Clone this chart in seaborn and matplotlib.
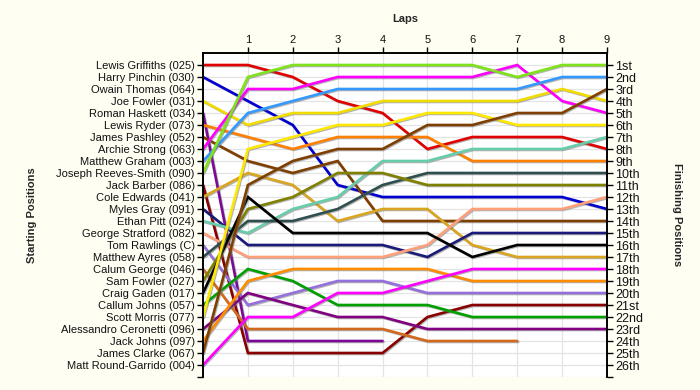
import numpy as np
import pandas as pd
import matplotlib
matplotlib.use("Agg")
import matplotlib.pyplot as plt
import matplotlib.patheffects as pe
import seaborn as sns

nan = np.nan

laps = [0, 1, 2, 3, 4, 5, 6, 7, 8, 9]

riders = [
    "Lewis Griffiths (025)", "Harry Pinchin (030)", "Owain Thomas (064)",
    "Joe Fowler (031)", "Roman Haskett (034)", "Lewis Ryder (073)",
    "James Pashley (052)", "Archie Strong (063)", "Matthew Graham (003)",
    "Joseph Reeves-Smith (090)", "Jack Barber (086)", "Cole Edwards (041)",
    "Myles Gray (091)", "Ethan Pitt (024)", "George Stratford (082)",
    "Tom Rawlings (C)", "Matthew Ayres (058)", "Calum George (046)",
    "Sam Fowler (027)", "Craig Gaden (017)", "Callum Johns (057)",
    "Scott Morris (077)", "Alessandro Ceronetti (096)", "Jack Johns (097)",
    "James Clarke (067)", "Matt Round-Garrido (004)",
]

lewis_griffiths = [1, 1, 2, 4, 5, 8, 7, 7, 7, 8]
harry_pinchin = [2, 4, 6, 11, 12, 12, 12, 12, 12, 13]
owain_thomas = [3, nan, nan, nan, nan, nan, nan, nan, nan, nan]
joe_fowler = [4, 6, 5, 5, 4, 4, 4, 4, 3, 4]
roman_haskett = [5, 24, 24, 24, 24, nan, nan, nan, nan, nan]
lewis_ryder = [6, 7, 8, 7, 7, 7, 9, 9, 9, 9]
james_pashley = [7, 9, 10, 9, 14, 14, 14, 14, 14, 14]
archie_strong = [8, 3, 3, 2, 2, 2, 2, 1, 4, 5]
matthew_graham = [9, 5, 4, 3, 3, 3, 3, 3, 2, 2]
joseph_reeves_smith = [10, 2, 1, 1, 1, 1, 1, 2, 1, 1]
jack_barber = [11, 25, 25, 25, 25, 22, 21, 21, 21, 21]
cole_edwards = [12, 10, 11, 14, 13, 13, 16, 17, 17, 17]
myles_gray = [13, 16, 16, 16, 16, 17, 15, 15, 15, 15]
ethan_pitt = [14, 15, 13, 12, 9, 9, 8, 8, 8, 7]
george_stratford = [15, 17, 17, 17, 17, 16, 13, 13, 13, 12]
tom_rawlings = [16, 21, 20, 19, 19, 20, 20, 20, 20, 20]
matthew_ayres = [17, 14, 14, 13, 11, 10, 10, 10, 10, 10]
calum_george = [18, 23, 23, 23, 23, 24, 24, 24, nan, nan]
sam_fowler = [19, 13, 12, 10, 10, 11, 11, 11, 11, 11]
craig_gaden = [20, 12, 15, 15, 15, 15, 17, 16, 16, 16]
callum_johns = [21, 18, 19, 21, 21, 21, 22, 22, 22, 22]
scott_morris = [22, 8, 7, 6, 6, 5, 5, 6, 6, 6]
alessandro_ceronetti = [23, 20, 21, 22, 22, 23, 23, 23, 23, 23]
jack_johns = [24, 19, 18, 18, 18, 18, 19, 19, 19, 19]
james_clarke = [25, 11, 9, 8, 8, 6, 6, 5, 5, 3]
matt_round_garrido = [26, 22, 22, 20, 20, 19, 18, 18, 18, 18]

positions = [
    lewis_griffiths, harry_pinchin, owain_thomas, joe_fowler, roman_haskett,
    lewis_ryder, james_pashley, archie_strong, matthew_graham,
    joseph_reeves_smith, jack_barber, cole_edwards, myles_gray, ethan_pitt,
    george_stratford, tom_rawlings, matthew_ayres, calum_george, sam_fowler,
    craig_gaden, callum_johns, scott_morris, alessandro_ceronetti, jack_johns,
    james_clarke, matt_round_garrido,
]

colors = [
    "#E00000", "#0000D0", "#808080", "#F2DC00", "#7A0A96", "#FF8000",
    "#7F3F00", "#FF00FF", "#3399FF", "#7FE21A", "#880000", "#DAA520",
    "#1A1A78", "#66CDAA", "#FFA07A", "#9370DB", "#2F4F4F", "#D2691E",
    "#808000", "#000000", "#00A000", "#FFE800", "#800080", "#FF8C00",
    "#7F3F00", "#FF00FF",
]

finish_labels = [
    "1st", "2nd", "3rd", "4th", "5th", "6th", "7th", "8th", "9th", "10th",
    "11th", "12th", "13th", "14th", "15th", "16th", "17th", "18th", "19th",
    "20th", "21st", "22nd", "23rd", "24th", "25th", "26th",
]

rows = []
for name, pos in zip(riders, positions):
    for lap, p in zip(laps, pos):
        rows.append({"rider": name, "lap": lap, "pos": p})
df = pd.DataFrame(rows).dropna()

sns.set_theme(style="white")
plt.rcParams["font.family"] = ["Liberation Sans", "DejaVu Sans"]

fig = plt.figure(figsize=(7.0, 3.9), dpi=100, facecolor="#FFFEF3")
ax = fig.add_axes([203 / 700, 1 - 377 / 390, 404 / 700, 324 / 390])
ax.set_facecolor("#FFFFFF")

palette = dict(zip(riders, colors))
sns.lineplot(data=df, x="lap", y="pos", hue="rider", palette=palette,
             hue_order=riders, estimator=None, sort=False, legend=False,
             linewidth=1.9, ax=ax)
for ln in ax.lines:
    ln.set_path_effects([pe.SimpleLineShadow(offset=(0.7, -0.7), shadow_color="#777777", alpha=0.55),
                         pe.Normal()])
    ln.set_solid_joinstyle("miter")

ax.set_xlim(0, 9)
ax.set_ylim(27, 0)

ax.set_xticks(range(1, 10))
ax.set_yticks(range(1, 28))
ax.grid(True, color="#E4E4E4", linewidth=0.9)
ax.set_axisbelow(True)

ax.xaxis.tick_top()
ax.xaxis.set_label_position("top")
ax.set_xticklabels([str(i) for i in range(1, 10)], fontsize=8)
ax.set_xlabel("Laps", fontsize=8, fontweight="bold", labelpad=9)

ax.set_yticklabels(riders + [""], fontsize=8)
ax.set_ylabel("Starting Positions", fontsize=8, fontweight="bold", labelpad=14)
ax.tick_params(axis="both", length=4, width=1, color="black", pad=2,
               labelcolor="#111111", direction="out")
ax.tick_params(axis="x", top=True, bottom=False)
ax.tick_params(axis="y", left=True)

ax2 = ax.twinx()
ax2.set_ylim(27, 0)
ax2.set_yticks(range(1, 28))
ax2.set_yticklabels(finish_labels + [""], fontsize=9)
ax2.tick_params(axis="y", length=4, width=1, color="black", pad=2,
                labelcolor="#111111", direction="out")
ax2.set_ylabel("Finishing Positions", fontsize=8, fontweight="bold",
               rotation=270, labelpad=28)
ax2.grid(False)

for a in (ax, ax2):
    for s in ("left", "right", "top"):
        a.spines[s].set_visible(True)
        a.spines[s].set_color("black")
        a.spines[s].set_linewidth(1.2)
    a.spines["bottom"].set_visible(False)

fig.savefig("out.png", dpi=100, facecolor=fig.get_facecolor())
